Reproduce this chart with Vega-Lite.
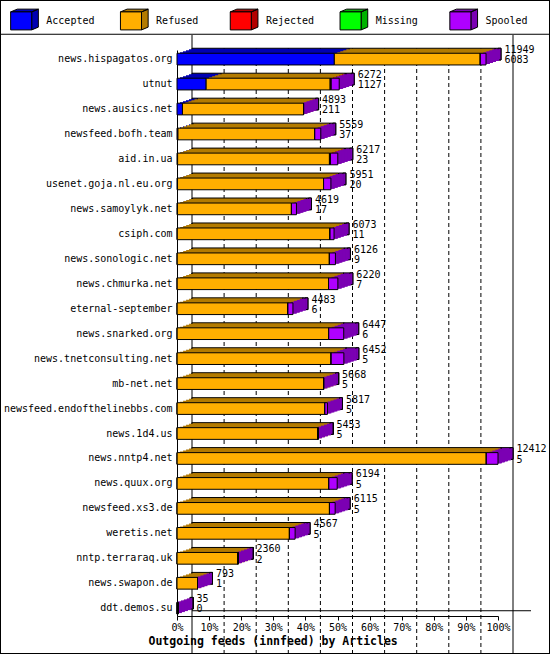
{
  "$schema": "https://vega.github.io/schema/vega-lite/v6.json",
  "width": 550,
  "height": 654,
  "autosize": {"type": "none"},
  "padding": 0,
  "background": "white",
  "config": {
    "view": {"stroke": "black", "strokeWidth": 2},
    "font": "DejaVu Sans Mono"
  },
  "data": {
    "values": [
      {"server": "news.hispagatos.org", "Accepted": 6083, "Refused": 5646, "Rejected": 0, "Missing": 0, "Spooled": 220},
      {"server": "utnut", "Accepted": 1127, "Refused": 4795, "Rejected": 40, "Missing": 0, "Spooled": 310},
      {"server": "news.ausics.net", "Accepted": 211, "Refused": 4682, "Rejected": 0, "Missing": 0, "Spooled": 0},
      {"server": "newsfeed.bofh.team", "Accepted": 37, "Refused": 5290, "Rejected": 0, "Missing": 0, "Spooled": 232},
      {"server": "aid.in.ua", "Accepted": 23, "Refused": 5871, "Rejected": 40, "Missing": 0, "Spooled": 283},
      {"server": "usenet.goja.nl.eu.org", "Accepted": 20, "Refused": 5648, "Rejected": 0, "Missing": 0, "Spooled": 283},
      {"server": "news.samoylyk.net", "Accepted": 17, "Refused": 4409, "Rejected": 0, "Missing": 0, "Spooled": 193},
      {"server": "csiph.com", "Accepted": 11, "Refused": 5907, "Rejected": 0, "Missing": 0, "Spooled": 155},
      {"server": "news.sonologic.net", "Accepted": 9, "Refused": 5885, "Rejected": 0, "Missing": 0, "Spooled": 232},
      {"server": "news.chmurka.net", "Accepted": 7, "Refused": 5853, "Rejected": 0, "Missing": 0, "Spooled": 360},
      {"server": "eternal-september", "Accepted": 6, "Refused": 4284, "Rejected": 0, "Missing": 0, "Spooled": 193},
      {"server": "news.snarked.org", "Accepted": 6, "Refused": 5861, "Rejected": 0, "Missing": 0, "Spooled": 580},
      {"server": "news.tnetconsulting.net", "Accepted": 5, "Refused": 5957, "Rejected": 0, "Missing": 0, "Spooled": 490},
      {"server": "mb-net.net", "Accepted": 5, "Refused": 5663, "Rejected": 0, "Missing": 0, "Spooled": 0},
      {"server": "newsfeed.endofthelinebbs.com", "Accepted": 5, "Refused": 5712, "Rejected": 0, "Missing": 0, "Spooled": 100},
      {"server": "news.1d4.us", "Accepted": 5, "Refused": 5448, "Rejected": 0, "Missing": 0, "Spooled": 0},
      {"server": "news.nntp4.net", "Accepted": 5, "Refused": 11957, "Rejected": 0, "Missing": 0, "Spooled": 450},
      {"server": "news.quux.org", "Accepted": 5, "Refused": 5867, "Rejected": 0, "Missing": 0, "Spooled": 322},
      {"server": "newsfeed.xs3.de", "Accepted": 5, "Refused": 5891, "Rejected": 0, "Missing": 0, "Spooled": 219},
      {"server": "weretis.net", "Accepted": 5, "Refused": 4343, "Rejected": 0, "Missing": 0, "Spooled": 219},
      {"server": "nntp.terraraq.uk", "Accepted": 2, "Refused": 2358, "Rejected": 0, "Missing": 0, "Spooled": 0},
      {"server": "news.swapon.de", "Accepted": 1, "Refused": 792, "Rejected": 0, "Missing": 0, "Spooled": 0},
      {"server": "ddt.demos.su", "Accepted": 0, "Refused": 35, "Rejected": 0, "Missing": 0, "Spooled": 0}
    ]
  },
  "transform": [
    {"fold": ["Accepted", "Refused", "Rejected", "Missing", "Spooled"], "as": ["status", "count"]},
    {"calculate": "indexof(['Accepted', 'Refused', 'Rejected', 'Missing', 'Spooled'], datum.status)", "as": "ord"},
    {"joinaggregate": [{"op": "sum", "field": "count", "as": "total"}], "groupby": ["server"]}
  ],
  "encoding": {
    "y": {
      "field": "server",
      "type": "nominal",
      "scale": {
        "domain": [
          "news.hispagatos.org", "utnut", "news.ausics.net", "newsfeed.bofh.team", "aid.in.ua",
          "usenet.goja.nl.eu.org", "news.samoylyk.net", "csiph.com", "news.sonologic.net",
          "news.chmurka.net", "eternal-september", "news.snarked.org", "news.tnetconsulting.net",
          "mb-net.net", "newsfeed.endofthelinebbs.com", "news.1d4.us", "news.nntp4.net",
          "news.quux.org", "newsfeed.xs3.de", "weretis.net", "nntp.terraraq.uk",
          "news.swapon.de", "ddt.demos.su"
        ],
        "range": [50, 616],
        "paddingInner": 0.531,
        "paddingOuter": 0.1035,
        "align": 0.63
      },
      "axis": {
        "orient": "left",
        "offset": -177,
        "title": null,
        "ticks": false,
        "grid": false,
        "domainColor": "black",
        "labelFont": "DejaVu Sans Mono",
        "labelFontSize": 10,
        "labelColor": "black",
        "labelPadding": 5,
        "labelLimit": 300
      }
    }
  },
  "layer": [
    {
      "data": {"values": [{"articles": 0}, {"articles": 12412}]},
      "mark": {"type": "rule", "color": "black", "strokeWidth": 1, "xOffset": 15, "yOffset": 35, "y2Offset": -43},
      "encoding": {
        "y": null,
        "x": {"field": "articles", "type": "quantitative", "title": "Outgoing feeds (innfeed) by Articles"}
      }
    },
    {
      "data": {"values": [
        {"articles": 1241.2}, {"articles": 2482.4}, {"articles": 3723.6},
        {"articles": 4964.8}, {"articles": 6206}, {"articles": 7447.2},
        {"articles": 8688.4}, {"articles": 9929.6}, {"articles": 11170.8}
      ]},
      "mark": {"type": "rule", "color": "black", "strokeWidth": 1, "strokeDash": [4, 3], "xOffset": 15, "yOffset": 48, "y2Offset": -43},
      "encoding": {
        "y": null,
        "x": {"field": "articles", "type": "quantitative", "title": "Outgoing feeds (innfeed) by Articles"}
      }
    },
    {
      "data": {"values": [{"floor": "back"}]},
      "mark": {"type": "rule", "color": "black", "strokeWidth": 1, "xOffset": 15, "x2Offset": 33, "yOffset": 2.5},
      "encoding": {
        "x": {"datum": 0, "type": "quantitative", "title": "Outgoing feeds (innfeed) by Articles"},
        "x2": {"datum": 12412},
        "y": {"datum": "ddt.demos.su", "type": "nominal"}
      }
    },
    {
      "data": {"values": [{"legend": "separator"}]},
      "mark": {"type": "rule", "color": "black", "strokeWidth": 1, "yOffset": -24.85},
      "encoding": {
        "y": {"datum": "news.hispagatos.org", "type": "nominal"}
      }
    },
    {
      "encoding": {
        "x": {"field": "count", "type": "quantitative", "stack": "zero", "title": "Outgoing feeds (innfeed) by Articles"},
        "fill": {
          "field": "status",
          "type": "nominal",
          "scale": {
            "domain": ["Accepted", "Refused", "Rejected", "Missing", "Spooled", "Other"],
            "range": ["#0000B3", "#B37B00", "#B30000", "#00B300", "#7B00B3", "#808080"]
          },
          "legend": {
            "values": ["Accepted", "Refused", "Rejected", "Missing", "Spooled"],
            "orient": "none",
            "legendX": 10,
            "legendY": 6.15,
            "direction": "horizontal",
            "columns": 5,
            "gridAlign": "all",
            "columnPadding": 22.8,
            "padding": 0,
            "title": null,
            "symbolType": "M-1,-0.65L-0.52,-0.85L1,-0.85L0.52,-0.65ZM0.52,-0.65L1,-0.85L1,0.45L0.52,0.65Z",
            "symbolSize": 767,
            "symbolStrokeColor": "black",
            "symbolStrokeWidth": 1,
            "symbolOpacity": 1,
            "labelFont": "DejaVu Sans Mono",
            "labelFontSize": 10,
            "labelColor": "black",
            "labelOpacity": 0,
            "labelOffset": 7.3
          }
        },
        "order": {"field": "ord", "type": "quantitative"}
      },
      "layer": [
        {"mark": {"type": "bar", "stroke": "black", "strokeWidth": 1, "xOffset": 15, "x2Offset": 15, "yOffset": -5, "y2Offset": -5}},
        {"mark": {"type": "bar", "xOffset": 12, "x2Offset": 12, "yOffset": -4, "y2Offset": -4}},
        {"mark": {"type": "bar", "xOffset": 9, "x2Offset": 9, "yOffset": -3, "y2Offset": -3}},
        {"mark": {"type": "bar", "xOffset": 6, "x2Offset": 6, "yOffset": -2, "y2Offset": -2}},
        {"mark": {"type": "bar", "xOffset": 3, "x2Offset": 3, "yOffset": -1, "y2Offset": -1}}
      ]
    },
    {
      "transform": [{"filter": "datum.status === 'Spooled'"}],
      "encoding": {
        "x": {"field": "total", "type": "quantitative", "title": "Outgoing feeds (innfeed) by Articles"},
        "x2": {"field": "total"}
      },
      "layer": [
        {"mark": {"type": "bar", "fill": "#7B00B3", "stroke": "black", "strokeWidth": 1, "xOffset": 12, "x2Offset": 15, "yOffset": -5, "y2Offset": -5}},
        {"mark": {"type": "bar", "fill": "#7B00B3", "xOffset": 9, "x2Offset": 13, "yOffset": -4, "y2Offset": -4}},
        {"mark": {"type": "bar", "fill": "#7B00B3", "xOffset": 6, "x2Offset": 10, "yOffset": -3, "y2Offset": -3}},
        {"mark": {"type": "bar", "fill": "#7B00B3", "xOffset": 3, "x2Offset": 7, "yOffset": -2, "y2Offset": -2}},
        {"mark": {"type": "bar", "fill": "#7B00B3", "xOffset": 0, "x2Offset": 4, "yOffset": -1, "y2Offset": -1}}
      ]
    },
    {
      "mark": {"type": "bar", "stroke": "black", "strokeWidth": 1, "opacity": 1},
      "encoding": {
        "x": {
          "field": "count",
          "type": "quantitative",
          "stack": "zero",
          "title": "Outgoing feeds (innfeed) by Articles",
          "scale": {"domain": [0, 12412], "range": [177, 498], "nice": false, "zero": true},
          "axis": {
            "orient": "bottom",
            "offset": -38,
            "values": [0, 1241.2, 2482.4, 3723.6, 4964.8, 6206, 7447.2, 8688.4, 9929.6, 11170.8, 12412],
            "labelExpr": "round(datum.value / 124.12) + '%'",
            "grid": false,
            "domainColor": "black",
            "tickColor": "black",
            "tickSize": 4,
            "labelFont": "DejaVu Sans Mono",
            "labelFontSize": 10,
            "labelColor": "black",
            "labelPadding": 2,
            "labelFlush": false,
            "labelOverlap": false,
            "titleFont": "DejaVu Sans Mono",
            "titleFontSize": 11.5,
            "titleFontWeight": "bold",
            "titleColor": "black",
            "titleX": 148,
            "titleY": 28,
            "titleAlign": "left",
            "titleBaseline": "alphabetic"
          }
        },
        "color": {
          "field": "status",
          "type": "nominal",
          "scale": {
            "domain": ["Accepted", "Refused", "Rejected", "Missing", "Spooled"],
            "range": ["#0000FF", "#FFAF00", "#FF0000", "#00FF00", "#AF00FF"]
          },
          "legend": {
            "orient": "none",
            "legendX": 10,
            "legendY": 6.15,
            "direction": "horizontal",
            "columns": 5,
            "gridAlign": "all",
            "columnPadding": 22.8,
            "padding": 0,
            "title": null,
            "symbolType": "M-1,-0.65L0.52,-0.65L0.52,0.65L-1,0.65Z",
            "symbolSize": 767,
            "symbolStrokeColor": "black",
            "symbolStrokeWidth": 1,
            "symbolOpacity": 1,
            "labelFont": "DejaVu Sans Mono",
            "labelFontSize": 10,
            "labelColor": "black",
            "labelOffset": 7.3
          }
        },
        "order": {"field": "ord", "type": "quantitative"}
      }
    },
    {
      "transform": [{"filter": "datum.status === 'Accepted'"}],
      "encoding": {
        "x": {"field": "total", "type": "quantitative", "title": "Outgoing feeds (innfeed) by Articles"}
      },
      "layer": [
        {
          "mark": {"type": "text", "align": "left", "baseline": "middle", "dx": 18.5, "dy": -9, "font": "DejaVu Sans Mono", "fontSize": 10, "color": "black"},
          "encoding": {"text": {"field": "total", "type": "quantitative", "format": "d"}}
        },
        {
          "mark": {"type": "text", "align": "left", "baseline": "middle", "dx": 18.5, "dy": 1.2, "font": "DejaVu Sans Mono", "fontSize": 10, "color": "black"},
          "encoding": {"text": {"field": "Accepted", "type": "quantitative", "format": "d"}}
        }
      ]
    }
  ]
}
